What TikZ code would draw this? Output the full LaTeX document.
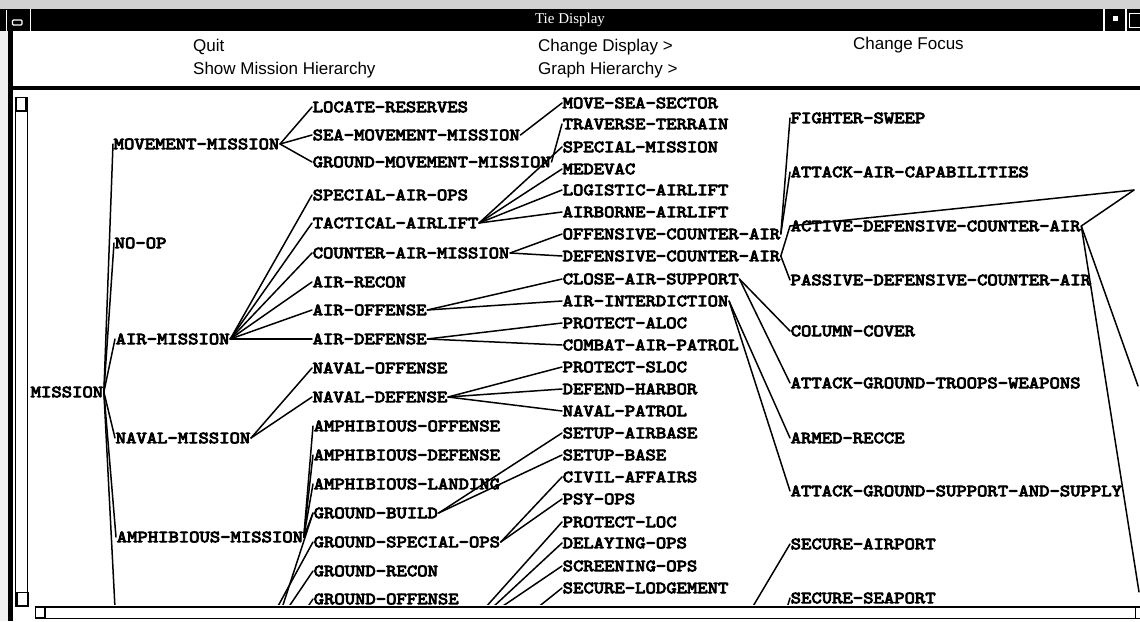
\documentclass[tikz,border=0pt]{standalone}
\usepackage{fontspec}
\newfontfamily\graphfont{lmmono10-regular.otf}[FakeStretch=1.16,FakeBold=5]
\newfontfamily\menufont{Liberation Sans}
\newfontfamily\titlefont{Liberation Serif}
\begin{document}
\begin{tikzpicture}[x=1pt,y=-1pt,
  lbl/.style={anchor=west, inner sep=0.5pt, font=\graphfont\fontsize{17}{17}\selectfont},
  link/.style={line width=1.5pt, line cap=round},
  menuitem/.style={anchor=base west, inner sep=0pt, font=\menufont\fontsize{17}{17}\selectfont},
  frameline/.style={line width=1pt}]
\useasboundingbox (0,0) rectangle (1140,621);
\fill[white] (0,0) rectangle (1140,621);

% ---------- window title bar ----------
\fill[gray!35] (0,0) rectangle (1140,9);
\fill[gray!12] (0,31) rectangle (8,621);
\fill[black] (0,9) rectangle (1140,31);
\draw[white, line width=1pt] (6.5,10) -- (6.5,31);
\draw[white, line width=1.5pt] (30.5,9) -- (30.5,31);
\draw[white, line width=1.2pt, rounded corners=1pt] (12.5,20) rectangle (22,25);
\draw[white, line width=1.5pt] (1104,9) -- (1104,31);
\fill[white] (1113,16) rectangle (1118,21);
\draw[white, line width=1.5pt] (1126,9) -- (1126,31);
\draw[white, line width=1pt] (1129.5,13.5) rectangle (1141,27);
\node[white, font=\titlefont\fontsize{15}{15}\selectfont] (title) at (570,20) {Tie Display};

% ---------- menu area ----------
\node[menuitem] (quit)  at (193,51) {Quit};
\node[menuitem] (showh) at (193,74) {Show Mission Hierarchy};
\node[menuitem] (chdisp) at (538,51) {Change Display >};
\node[menuitem] (graphh) at (538,74) {Graph Hierarchy >};
\node[menuitem] (chfocus) at (853,49) {Change Focus};
\fill[black] (8,86) rectangle (1140,90);
\fill[black] (8,31) rectangle (13,621);

% ---------- mission hierarchy ----------
\node[lbl] (m) at (30,392) {MISSION};

\node[lbl] (mm)   at (113,144) {MOVEMENT-MISSION};
\node[lbl] (noop) at (114,243) {NO-OP};
\node[lbl] (am)   at (115,339) {AIR-MISSION};
\node[lbl] (nm)   at (115,438) {NAVAL-MISSION};
\node[lbl] (amph) at (116,537) {AMPHIBIOUS-MISSION};

\node[lbl] (lr)  at (312,107) {LOCATE-RESERVES};
\node[lbl] (smm) at (312,135) {SEA-MOVEMENT-MISSION};
\node[lbl] (gmm) at (312,162) {GROUND-MOVEMENT-MISSION};
\node[lbl] (sao) at (312,195) {SPECIAL-AIR-OPS};
\node[lbl] (ta)  at (312,223) {TACTICAL-AIRLIFT};
\node[lbl] (cam) at (312,253) {COUNTER-AIR-MISSION};
\node[lbl] (ar)  at (312,282) {AIR-RECON};
\node[lbl] (ao)  at (312,310) {AIR-OFFENSE};
\node[lbl] (ad)  at (312,339) {AIR-DEFENSE};
\node[lbl] (no)  at (312,368) {NAVAL-OFFENSE};
\node[lbl] (nd)  at (312,397) {NAVAL-DEFENSE};
\node[lbl] (aof) at (313,426) {AMPHIBIOUS-OFFENSE};
\node[lbl] (adf) at (313,455) {AMPHIBIOUS-DEFENSE};
\node[lbl] (ala) at (313,484) {AMPHIBIOUS-LANDING};
\node[lbl] (gb)  at (313,513) {GROUND-BUILD};
\node[lbl] (gso) at (313,542) {GROUND-SPECIAL-OPS};
\node[lbl] (gr)  at (313,571) {GROUND-RECON};
\node[lbl] (go)  at (313,599) {GROUND-OFFENSE};

\node[lbl] (mss)  at (562,103) {MOVE-SEA-SECTOR};
\node[lbl] (tt)   at (562,124) {TRAVERSE-TERRAIN};
\node[lbl] (sm)   at (562,147) {SPECIAL-MISSION};
\node[lbl] (med)  at (562,169) {MEDEVAC};
\node[lbl] (la)   at (562,190) {LOGISTIC-AIRLIFT};
\node[lbl] (aba)  at (562,212) {AIRBORNE-AIRLIFT};
\node[lbl] (oca)  at (562,234) {OFFENSIVE-COUNTER-AIR};
\node[lbl] (dca)  at (562,256) {DEFENSIVE-COUNTER-AIR};
\node[lbl] (cas)  at (562,279) {CLOSE-AIR-SUPPORT};
\node[lbl] (ai)   at (562,301) {AIR-INTERDICTION};
\node[lbl] (pal)  at (562,323) {PROTECT-ALOC};
\node[lbl] (cmbt) at (562,345) {COMBAT-AIR-PATROL};
\node[lbl] (psl)  at (562,367) {PROTECT-SLOC};
\node[lbl] (dh)   at (562,389) {DEFEND-HARBOR};
\node[lbl] (np)   at (562,411) {NAVAL-PATROL};
\node[lbl] (sab)  at (562,433) {SETUP-AIRBASE};
\node[lbl] (sb)   at (562,455) {SETUP-BASE};
\node[lbl] (ca)   at (562,477) {CIVIL-AFFAIRS};
\node[lbl] (po)   at (562,499) {PSY-OPS};
\node[lbl] (pl)   at (562,522) {PROTECT-LOC};
\node[lbl] (dop)  at (562,543) {DELAYING-OPS};
\node[lbl] (sop)  at (562,566) {SCREENING-OPS};
\node[lbl] (sl)   at (562,588) {SECURE-LODGEMENT};

\node[lbl] (fs)   at (790,118) {FIGHTER-SWEEP};
\node[lbl] (aac)  at (790,172) {ATTACK-AIR-CAPABILITIES};
\node[lbl] (adca) at (790,226) {ACTIVE-DEFENSIVE-COUNTER-AIR};
\node[lbl] (pdca) at (790,280) {PASSIVE-DEFENSIVE-COUNTER-AIR};
\node[lbl] (cc)   at (790,331) {COLUMN-COVER};
\node[lbl] (agtw) at (790,383) {ATTACK-GROUND-TROOPS-WEAPONS};
\node[lbl] (rec)  at (790,438) {ARMED-RECCE};
\node[lbl] (agss) at (790,491) {ATTACK-GROUND-SUPPORT-AND-SUPPLY};
\node[lbl] (sap)  at (790,544) {SECURE-AIRPORT};
\node[lbl] (ssp)  at (790,598) {SECURE-SEAPORT};

% ends of links whose other node lies outside the view
\coordinate (bm) at (115,608);
\coordinate (b1) at (277,608);
\coordinate (b2) at (282,608);
\coordinate (b3) at (288,608);
\coordinate (b4) at (307,608);
\coordinate (c1) at (485,608);
\coordinate (c2) at (492,608);
\coordinate (c3) at (500,608);
\coordinate (c4) at (537,608);
\coordinate (d1) at (752,608);
\coordinate (d2) at (787,608);
\coordinate (r1) at (1134,190);
\coordinate (r2) at (1138,386);
\coordinate (r3) at (1139,592);

\foreach \p/\c in {m/mm, m/noop, m/am, m/nm, m/amph,
    mm/lr, mm/smm, mm/gmm,
    am/sao, am/ta, am/cam, am/ar, am/ao, am/ad,
    nm/no, nm/nd,
    amph/aof, amph/adf, amph/ala, amph/gb,
    smm/mss, gmm/tt,
    ta/sm, ta/med, ta/la, ta/aba,
    cam/oca, cam/dca,
    ao/cas, ao/ai, ad/pal, ad/cmbt,
    nd/psl, nd/dh, nd/np,
    gb/sab, gb/sb, gso/ca, gso/po,
    oca/fs, oca/aac, dca/adca, dca/pdca,
    cas/cc, cas/agtw, ai/rec, ai/agss}
  \draw[link] (\p.east) -- (\c.west);

\foreach \p/\c in {b1/gso, b2/gb, b3/gr, b4/go,
    c1/pl, c2/dop, c3/sop, c4/sl, d1/sap, d2/ssp}
  \draw[link] (\p) -- (\c.west);

\draw[link] (m.east) -- (bm);
\draw[link] (adca.east) -- (r1);
\draw[link] (adca.west) -- (r1);
\draw[link] (adca.east) -- (r2);
\draw[link] (adca.east) -- (r3);

% ---------- scroll bars ----------
\fill[white] (30,605) rectangle (1140,621);
\draw[frameline] (15.5,97) rectangle (27,606);
\draw[line width=1.5pt] (16,97.5) rectangle (26,111);
\draw[line width=1.5pt] (17,592.5) rectangle (28,606);
\draw[line width=1.8pt] (35,607) -- (1140,607);
\draw[frameline] (35,607) rectangle (1141,618);
\draw[line width=1.5pt] (35.5,607.5) rectangle (45,618);
\draw[frameline] (1135,607) -- (1135,618);
\end{tikzpicture}
\end{document}
